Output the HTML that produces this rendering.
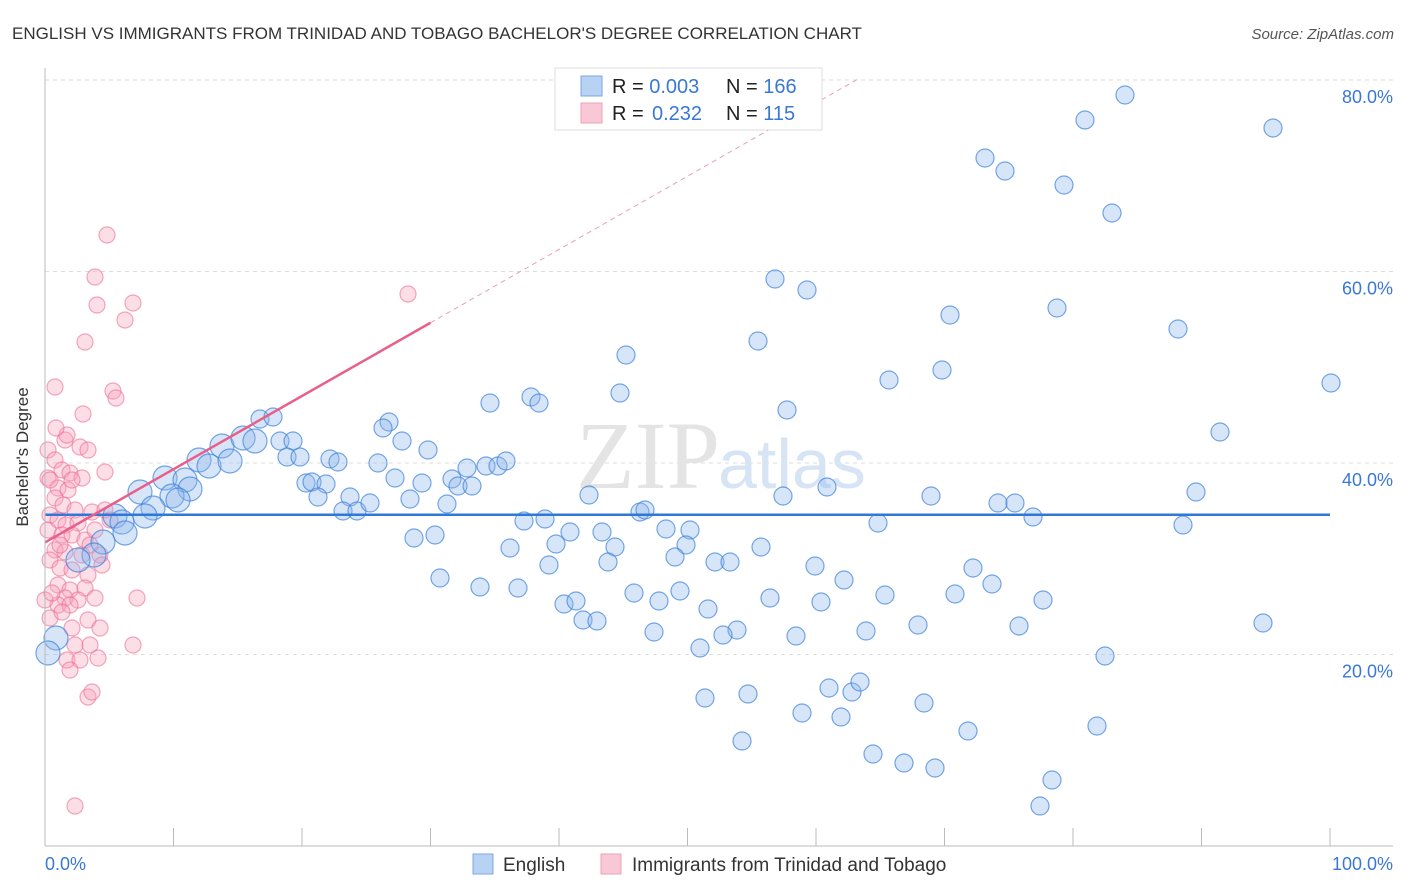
<!DOCTYPE html>
<html><head><meta charset="utf-8"><style>
body{margin:0;background:#fff;font-family:"Liberation Sans",sans-serif}
svg{display:block}
</style></head><body>
<svg width="1406" height="892" xmlns="http://www.w3.org/2000/svg">
<text x="12" y="39" font-size="17" fill="#333">ENGLISH VS IMMIGRANTS FROM TRINIDAD AND TOBAGO BACHELOR'S DEGREE CORRELATION CHART</text>
<text x="1394" y="39" font-size="15" fill="#555" font-style="italic" text-anchor="end">Source: ZipAtlas.com</text>
<g id="grid"></g>
<text x="720" y="488" font-size="96" fill="#e4e4e4" text-anchor="end" font-family="Liberation Serif,serif">ZIP</text>
<text x="718" y="488" font-size="70" fill="#d6e4f4">atlas</text>
<g id="pink"></g>
<g id="blue"></g>
<g id="lines"></g>
<line x1="45" y1="68" x2="45" y2="846" stroke="#bbb"/>
<line x1="45" y1="846" x2="1393" y2="846" stroke="#bbb"/>
<g id="xt"></g>
<text x="28" y="457" font-size="17" fill="#333" text-anchor="middle" transform="rotate(-90 28 457)">Bachelor's Degree</text>
<text x="45" y="870" font-size="18" fill="#3a78d4">0.0%</text>
<text x="1393" y="870" font-size="18" fill="#3a78d4" text-anchor="end">100.0%</text>
<g>
<rect x="473" y="854" width="20" height="20" fill="#b8d2f3" stroke="#7aa7e6"/>
<text x="503" y="871" font-size="19" fill="#333">English</text>
<rect x="601" y="854" width="20" height="20" fill="#f9c8d6" stroke="#f0a0b8"/>
<text x="632" y="871" font-size="19" fill="#333">Immigrants from Trinidad and Tobago</text>
</g>
<g>
<rect x="555" y="68" width="267" height="62" fill="#fff" stroke="#ddd"/>
<rect x="581" y="76" width="21" height="20" fill="#b8d2f3" stroke="#7aa7e6"/>
<rect x="581" y="103" width="21" height="20" fill="#f9c8d6" stroke="#f0a0b8"/>
<text x="612" y="93" font-size="20" fill="#222">R = <tspan fill="#3a78d4">0.003</tspan><tspan x="726">N = </tspan><tspan fill="#3a78d4">166</tspan></text>
<text x="612" y="120" font-size="20" fill="#222">R = <tspan x="652" fill="#3a78d4">0.232</tspan><tspan x="726">N = </tspan><tspan fill="#3a78d4">115</tspan></text>
</g>
</svg>
<script>
const yTicks=[20,40,60,80];
const xTickVals=[0,10,20,30,40,50,60,70,80,90,100];
const blueTrend=[34.6,34.6];
const pinkTrend=[31.7,80.2];
const blueX=[1125,1085,1273,985,1005,1064,1112,775,807,950,1057,1178,626,758,889,942,1331,620,490,531,539,787,1220,260,273,389,383,402,428,222,243,255,280,293,287,300,199,209,230,165,185,190,172,178,140,153,145,115,122,125,103,94,78,56,48,330,338,378,395,467,486,498,506,452,458,472,306,312,326,318,350,343,357,370,422,410,447,589,783,827,931,998,1015,1196,640,645,524,545,878,1033,1183,414,435,510,556,570,602,615,666,690,686,675,761,608,549,715,730,815,844,973,992,440,480,518,634,680,564,576,659,770,821,885,955,1043,583,597,654,708,737,723,796,866,918,1019,1263,700,1105,705,748,829,852,860,924,802,841,1097,968,742,873,904,935,1052,1040].map(p=>(p-45)/12.85);
const blueY=[95,120,128,158,171,185,213,279,290,315,308,329,355,341,380,370,383,393,403,397,403,410,432,419,417,422,428,441,450,446,438,441,441,441,457,457,460,466,461,478,480,489,496,500,492,508,516,516,522,533,542,555,560,638,653,459,462,463,478,468,466,466,461,479,486,486,483,482,484,497,497,511,511,503,483,499,504,495,496,487,496,503,503,492,512,510,521,519,523,517,525,538,535,548,544,532,532,547,529,530,545,557,547,562,565,562,562,566,580,568,584,578,587,588,593,591,604,601,601,598,602,595,594,600,620,621,632,609,630,635,636,631,625,626,623,648,656,698,694,688,692,682,703,713,717,726,731,741,754,763,768,780,806].map(p=>(846-p)/9.575);
const pinkX=[107,95,97,133,125,85,55,113,116,83,65,67,80,88,48,55,62,70,48,58,68,82,105,55,63,75,50,58,66,78,92,105,48,62,72,85,95,55,65,82,100,50,60,72,88,102,58,70,85,65,78,58,70,95,137,50,72,88,100,75,90,67,80,98,70,133,88,92,75,45,50,56,72,60,90,52,62,110,408].map(p=>(p-45)/12.85);
const pinkY=[235,277,305,303,320,342,387,391,398,414,440,435,447,450,450,460,470,473,478,488,490,478,472,498,505,510,515,520,525,523,512,510,530,535,535,540,530,550,552,555,555,560,568,570,575,565,585,590,588,598,600,605,605,598,598,618,628,620,628,645,645,660,660,658,670,645,697,692,806,600,480,428,480,545,545,593,612,520,294].map(p=>(846-p)/9.575);
const sx=v=>45+v*12.85, sy=v=>846-v*9.575;
const NS='http://www.w3.org/2000/svg';
function mk(t,a,parent){const e=document.createElementNS(NS,t);for(const k in a)e.setAttribute(k,a[k]);parent.appendChild(e);return e;}
const grid=document.getElementById('grid');
yTicks.forEach(v=>{
 const l=mk('line',{x1:45,x2:1393,y1:sy(v),y2:sy(v),stroke:'#ddd','stroke-dasharray':'4 4'},grid);
 
 
 const t=mk('text',{x:1393,y:sy(v)+23,'font-size':18,fill:'#3a78d4','text-anchor':'end'},grid);
 t.textContent=v.toFixed(1)+'%';
 
 
});
const xt=document.getElementById('xt');
xTickVals.forEach(v=>{
 const l=mk('line',{x1:sx(v),x2:sx(v),y1:828,y2:846,stroke:'#bbb'},xt);
 
 
});
const pg=document.getElementById('pink');
pinkX.forEach((x,i)=>{
 const c=mk('circle',{cx:sx(x),cy:sy(pinkY[i]),r:8,fill:'rgba(246,160,186,0.35)',stroke:'rgba(236,110,150,0.6)','stroke-width':1.2},pg);
 
 
});
const bg=document.getElementById('blue');
blueX.forEach((x,i)=>{
 const r=sx(x)<260?12:9;
 const c=mk('circle',{cx:sx(x),cy:sy(blueY[i]),r:r,fill:'rgba(140,180,235,0.35)',stroke:'rgba(60,130,220,0.7)','stroke-width':1.2},bg);
 
 
});
const lg=document.getElementById('lines');
const bl=mk('line',{x1:sx(0),x2:sx(100),y1:sy(blueTrend[0]),y2:sy(blueTrend[1]),stroke:'#2f78d8','stroke-width':2.5},lg);


const x1=0,x2=30,x3=63.4;
const py=x=>pinkTrend[0]+(pinkTrend[1]-pinkTrend[0])*x/x3;
const pl=mk('line',{x1:sx(x1),x2:sx(x2),y1:sy(py(x1)),y2:sy(py(x2)),stroke:'#e8608a','stroke-width':2.5},lg);


const pd=mk('line',{x1:sx(x2),x2:sx(x3),y1:sy(py(x2)),y2:sy(py(x3)),stroke:'#e8a0b8','stroke-width':1,'stroke-dasharray':'5 4'},lg);


</script>
</body></html>
